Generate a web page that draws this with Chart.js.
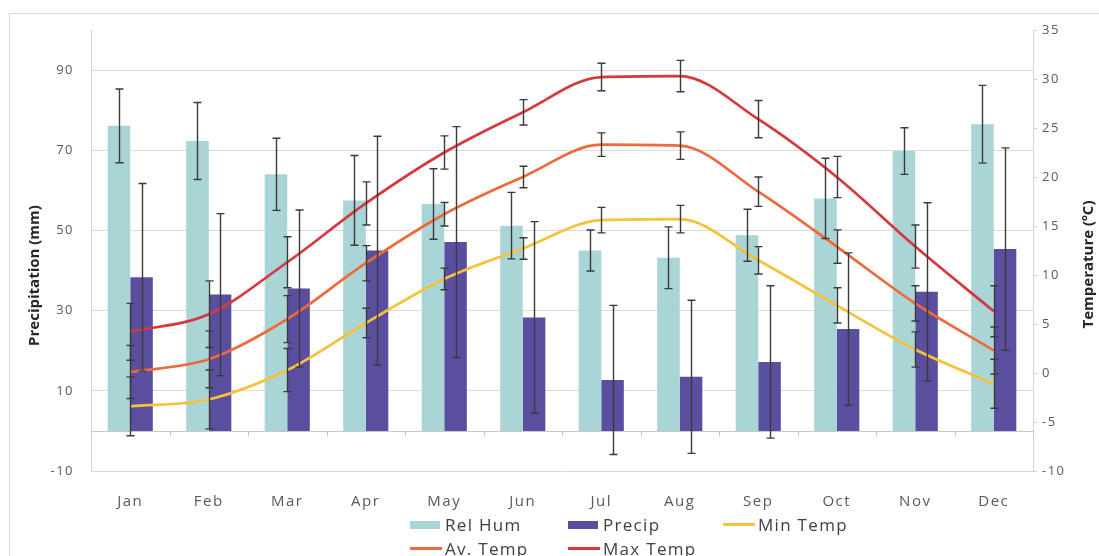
<!DOCTYPE html>
<html>
<head>
<meta charset="utf-8">
<script src="https://cdn.jsdelivr.net/npm/chart.js@4.4.1/dist/chart.umd.min.js"></script>
<style>
  html, body { margin: 0; padding: 0; background: #fff; }
  #wrap { position: relative; width: 1099px; height: 556px; overflow: hidden; background: #fff; }
  #frame { position: absolute; left: 9px; top: 13px; width: 1200px; height: 700px;
           border: 1px solid #d9d9d9; box-sizing: border-box; }
  #c { position: absolute; left: 0; top: 0; }
  #legend { position: absolute; left: 0; top: 0; width: 1099px; height: 556px; pointer-events: none;
            font-family: 'Open Sans', sans-serif; font-size: 17px; letter-spacing: 1.3px; color: #404040; }
  .item { position: absolute; display: flex; align-items: center; height: 24px; white-space: nowrap; }
  .sw { display: inline-block; margin-right: 5px; }
</style>
</head>
<body>
<div id="wrap">
  <div id="frame"></div>
  <canvas id="c" width="1099" height="556"></canvas>
  <div id="legend"></div>
</div>
<script>
// Monthly climate normals with standard deviations
const months = ['Jan', 'Feb', 'Mar', 'Apr', 'May', 'Jun', 'Jul', 'Aug', 'Sep', 'Oct', 'Nov', 'Dec'];

const relHum    = [76.1, 72.3, 64.0, 57.5, 56.6, 51.2, 45.0, 43.2, 48.8, 58.0, 69.8, 76.5];
const relHumSd  = [9.2, 9.6, 9.0, 11.2, 8.8, 8.3, 5.1, 7.7, 6.5, 10.0, 5.8, 9.7];

const precip    = [38.3, 34.0, 35.5, 45.0, 47.1, 28.3, 12.7, 13.5, 17.2, 25.4, 34.7, 45.4];
const precipSd  = [23.4, 20.2, 19.6, 28.5, 28.8, 23.9, 18.6, 19.1, 19.0, 19.0, 22.2, 25.2];

const minTemp   = [-3.4, -2.7, 0.3, 5.1, 9.6, 12.7, 15.6, 15.7, 11.5, 6.9, 2.4, -1.1];
const minTempSd = [3.0, 3.0, 2.2, 1.5, 1.1, 1.1, 1.3, 1.4, 1.4, 1.8, 1.8, 2.5];

const avTemp    = [0.1, 1.4, 5.5, 11.2, 16.2, 20.0, 23.3, 23.2, 18.5, 12.9, 7.1, 2.3];
const avTempSd  = [2.7, 2.9, 2.4, 1.8, 1.2, 1.1, 1.2, 1.4, 1.5, 1.7, 1.8, 2.4];

const maxTemp   = [4.2, 6.0, 11.3, 17.3, 22.5, 26.6, 30.2, 30.3, 25.9, 20.0, 12.9, 6.3];
const maxTempSd = [2.9, 3.4, 2.6, 2.2, 1.7, 1.3, 1.4, 1.6, 1.9, 2.1, 2.2, 2.6];

const precipTicks = [-10, 10, 30, 50, 70, 90];
const tempTicks   = [-10, -5, 0, 5, 10, 15, 20, 25, 30, 35];

const COLORS = {
  relHum: '#a9d5d7',
  precip: '#5a4e9e',
  minTemp: '#f6c23a',
  avTemp: '#ee6a3b',
  maxTemp: '#d6393d'
};

// Error bars (mean ± sd) drawn at each element's position
const errorBars = {
  id: 'errorBars',
  afterDatasetsDraw(chart) {
    const ctx = chart.ctx;
    ctx.save();
    ctx.strokeStyle = '#3a3a3a';
    ctx.lineWidth = 1.4;
    chart.data.datasets.forEach((ds, i) => {
      if (!ds.sd) return;
      const meta = chart.getDatasetMeta(i);
      const scale = chart.scales[ds.yAxisID];
      meta.data.forEach((el, j) => {
        const v = ds.data[j], e = ds.sd[j];
        const x = Math.round(el.x) + 0.5;
        const yTop = scale.getPixelForValue(v + e);
        const yBot = scale.getPixelForValue(v - e);
        ctx.beginPath();
        ctx.moveTo(x, yTop); ctx.lineTo(x, yBot);
        ctx.moveTo(x - 4, yTop); ctx.lineTo(x + 4, yTop);
        ctx.moveTo(x - 4, yBot); ctx.lineTo(x + 4, yBot);
        ctx.stroke();
      });
    });
    ctx.restore();
  }
};

// Category axis crossing the precipitation axis at zero, with boundary tick marks
const zeroAxis = {
  id: 'zeroAxis',
  beforeDatasetsDraw(chart) {
    const { ctx, chartArea: a, scales: { x, y } } = chart;
    const y0 = Math.round(y.getPixelForValue(0)) + 0.5;
    ctx.save();
    ctx.strokeStyle = '#c8c8c8';
    ctx.lineWidth = 1;
    ctx.beginPath();
    ctx.moveTo(a.left, y0);
    ctx.lineTo(a.right, y0);
    const n = months.length;
    for (let i = 0; i <= n; i++) {
      let px;
      if (i === 0) px = a.left;
      else if (i === n) px = a.right;
      else px = (x.getPixelForValue(i - 1) + x.getPixelForValue(i)) / 2;
      px = Math.round(px) + 0.5;
      ctx.moveTo(px, y0);
      ctx.lineTo(px, y0 + 5);
    }
    ctx.stroke();
    ctx.restore();
  }
};

// Rotated axis titles, both reading bottom to top
const axisTitles = {
  id: 'axisTitles',
  beforeLayout(chart) { chart.ctx.letterSpacing = '1.5px'; },
  beforeDraw(chart) { chart.ctx.letterSpacing = '1.5px'; },
  afterDraw(chart) {
    const { ctx, scales: { y, y2 } } = chart;
    ctx.save();
    ctx.letterSpacing = '0px';
    ctx.font = "bold 15px 'Open Sans', sans-serif";
    ctx.fillStyle = '#262626';
    ctx.textAlign = 'center';
    ctx.textBaseline = 'middle';
    const draw = (text, cx, cy) => {
      ctx.save();
      ctx.translate(cx, cy);
      ctx.rotate(-Math.PI / 2);
      ctx.fillText(text, 0, 0);
      ctx.restore();
    };
    draw(y.options.titleText, y.left + 35, y.getPixelForValue(45) + 25);
    draw(y2.options.titleText, y2.right - 10, y2.getPixelForValue(12.5) + 14);
    ctx.restore();
  }
};

const datasets = [
  { type: 'line', label: 'Min Temp', data: minTemp, sd: minTempSd, yAxisID: 'y2',
    borderColor: COLORS.minTemp, backgroundColor: COLORS.minTemp, order: 0 },
  { type: 'line', label: 'Av. Temp', data: avTemp, sd: avTempSd, yAxisID: 'y2',
    borderColor: COLORS.avTemp, backgroundColor: COLORS.avTemp, order: 0 },
  { type: 'line', label: 'Max Temp', data: maxTemp, sd: maxTempSd, yAxisID: 'y2',
    borderColor: COLORS.maxTemp, backgroundColor: COLORS.maxTemp, order: 0 },
  { type: 'bar', label: 'Rel Hum', data: relHum, sd: relHumSd, yAxisID: 'y',
    backgroundColor: COLORS.relHum, order: 1 },
  { type: 'bar', label: 'Precip', data: precip, sd: precipSd, yAxisID: 'y',
    backgroundColor: COLORS.precip, order: 1 }
];
datasets.forEach(d => {
  if (d.type === 'line') {
    Object.assign(d, { borderWidth: 2.7, pointRadius: 0, tension: 0.4,
                       cubicInterpolationMode: 'monotone', fill: false });
  } else {
    Object.assign(d, { categoryPercentage: 0.575, barPercentage: 1.0, borderWidth: 0 });
  }
});

Chart.defaults.font.family = "'Open Sans', sans-serif";
Chart.defaults.color = '#595959';

new Chart(document.getElementById('c'), {
  type: 'bar',
  data: { labels: months, datasets },
  options: {
    responsive: false,
    animation: false,
    devicePixelRatio: 1,
    layout: { padding: { top: 30, left: 0, right: 0, bottom: 45 } },
    plugins: { legend: { display: false }, tooltip: { enabled: false } },
    scales: {
      x: {
        offset: true,
        grid: { display: false, drawTicks: false, tickLength: 0 },
        border: { display: false },
        ticks: { font: { size: 15 }, color: '#595959', padding: 22, maxRotation: 0, autoSkip: false },
        afterFit(s) { s.height = 40; }
      },
      y: {
        position: 'left',
        min: -10, max: 100,
        titleText: 'Precipitation (mm)',
        afterBuildTicks(s) { s.ticks = precipTicks.map(v => ({ value: v })); },
        grid: { color: '#dadada', drawTicks: false, tickLength: 0 },
        border: { display: true, color: '#d4d4d4' },
        ticks: { font: { size: 13 }, color: '#595959', padding: 17 },
        afterFit(s) { s.width = 91; }
      },
      y2: {
        position: 'right',
        min: -10, max: 35,
        titleText: 'Temperature (ºC)',
        afterBuildTicks(s) { s.ticks = tempTicks.map(v => ({ value: v })); },
        grid: { drawOnChartArea: false, drawTicks: true, tickLength: 4, color: '#cfcfcf' },
        border: { display: true, color: '#d4d4d4' },
        ticks: { font: { size: 13 }, color: '#595959', padding: 5 },
        afterFit(s) { s.width = 66; }
      }
    }
  },
  plugins: [zeroAxis, errorBars, axisTitles]
});

// Legend laid out in three columns, Excel style
const legendOrder = ['Rel Hum', 'Precip', 'Min Temp', 'Av. Temp', 'Max Temp'];
const colX = [410, 568, 723];
const rowY = [512.5, 536.5];
const legendEl = document.getElementById('legend');
legendOrder.forEach((name, k) => {
  const ds = datasets.find(d => d.label === name);
  const item = document.createElement('div');
  item.className = 'item';
  item.style.left = colX[k % 3] + 'px';
  item.style.top = rowY[Math.floor(k / 3)] + 'px';
  const sw = document.createElement('span');
  sw.className = 'sw';
  if (ds.type === 'bar') {
    sw.style.width = '30px'; sw.style.height = '8px'; sw.style.background = ds.backgroundColor;
  } else {
    sw.style.width = '32px'; sw.style.height = '2.5px'; sw.style.background = ds.borderColor;
    sw.style.marginRight = '3px';
  }
  const tx = document.createElement('span');
  tx.textContent = name;
  item.appendChild(sw);
  item.appendChild(tx);
  legendEl.appendChild(item);
});
</script>
</body>
</html>
